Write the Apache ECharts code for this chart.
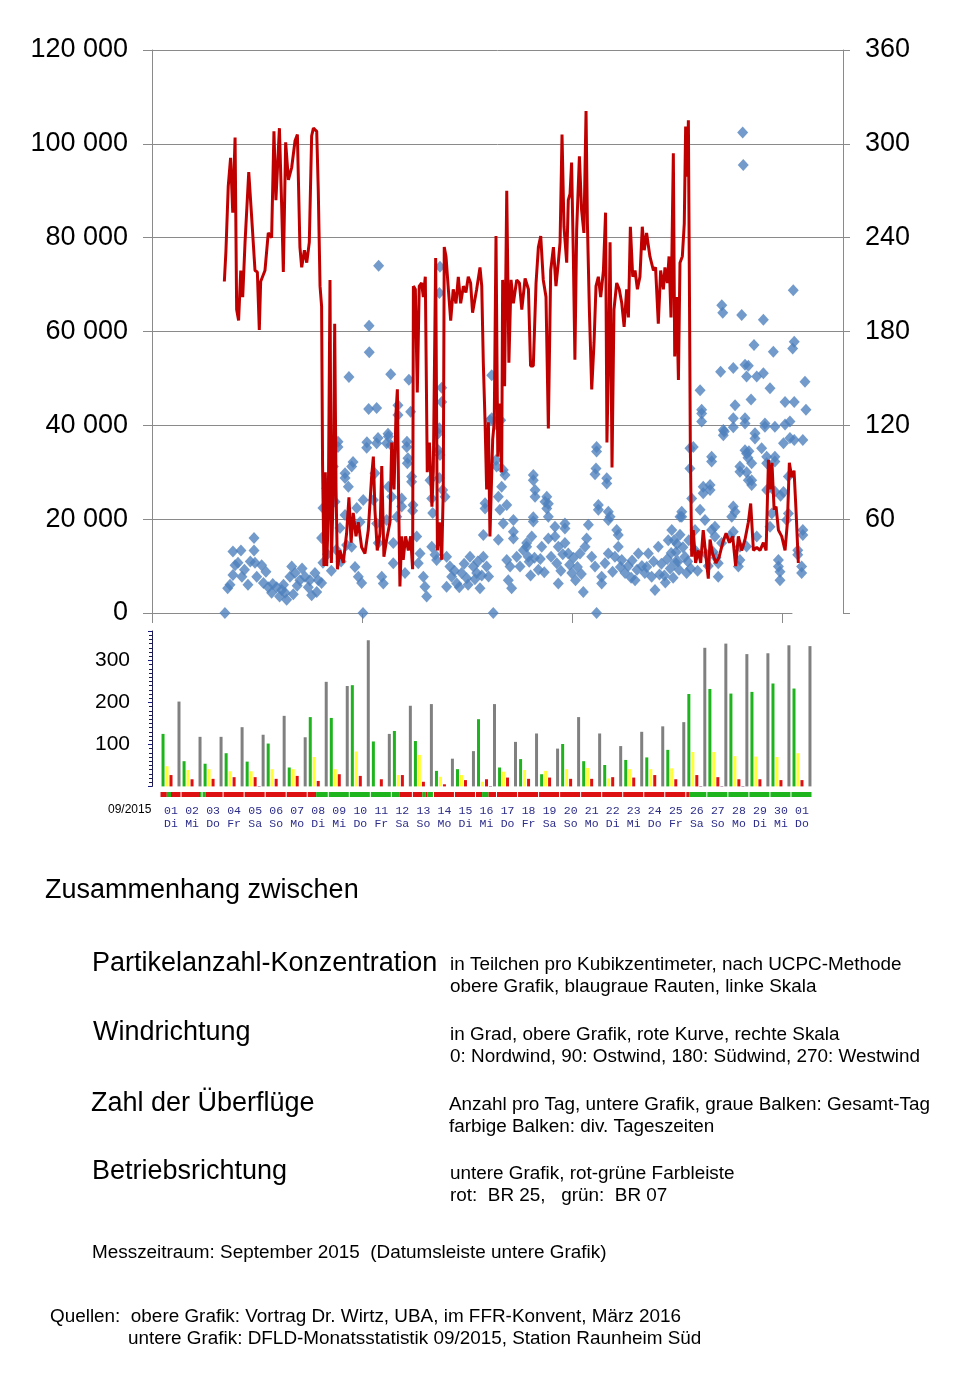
<!DOCTYPE html>
<html><head><meta charset="utf-8">
<script src="https://cdn.jsdelivr.net/npm/echarts@6/dist/echarts.min.js"></script>
<style>html,body{margin:0;padding:0;background:#fff}#c{width:958px;height:1380px}</style>
</head><body><div id="c"></div>
<script>
// ---------- upper chart: particle number concentration (day of month from 1 Sept 00:00, particles/cm3)
const particleData = [
[0.15,0],[0.29,5300],[0.41,6000],[0.56,13100],[0.56,8100],[0.67,10200],[0.82,10700],[0.97,13300],[1.02,7700],[1.15,9200],[1.33,6000],[1.45,11000],[1.64,16000],[1.64,13300],[1.69,10700],[1.78,7700],[2.03,10200],[2.12,6400],[2.25,8800],[2.37,5500],[2.54,4300],[2.6,6200],[2.80,5500],[2.95,3500],[3.06,4900],[3.15,6000],[3.23,4300],[3.31,2800],[3.48,7700],[3.57,9900],[3.65,4000],[3.74,8500],[3.85,5800],[3.99,7000],[4.1,9500],[4.25,7700],[4.42,5500],[4.5,7000],[4.59,3800],[4.76,8500],[4.85,4500],[4.93,7000],[5.10,6400],[5.17,10700],
[5.10,16000],[5.17,22400],[5.36,26600],[5.4,12500],[5.53,28300],[5.6,9000],[5.70,31200],[5.79,23700],[5.85,13500],[5.94,35400],[5.94,36500],[6.04,18100],[6.1,11000],[6.30,28800],[6.30,29800],[6.30,20900],[6.38,14500],[6.47,26900],[6.50,50300],[6.64,31200],[6.64,14100],[6.71,32200],[6.81,9800],[6.90,22400],[6.98,7700],[7.07,19400],[7.15,6400],[7.22,0],[7.23,24100],[7.41,35200],[7.42,36400],[7.51,43500],[7.53,61200],[7.54,55600],
[7.75,24100],[7.83,29800],[7.92,43700],[7.92,36200],[7.92,19100],[7.99,37300],[8.00,14900],[8.02,74000],[8.18,7700],[8.26,6300],[8.43,36200],[8.43,19800],[8.50,38200],[8.52,37600],[8.52,26900],[8.64,50900],[8.65,35800],[8.69,24800],[8.77,14900],[8.77,10600],[8.95,20500],[9.01,44300],[9.01,42200],[9.20,24400],[9.20,22700],[9.37,8500],[9.46,35400],[9.47,36500],[9.49,31900],[9.52,33000],[9.57,49700],[9.66,42900],[9.71,28000],[9.71,29100],[9.76,21800],[9.78,23000],[9.97,16300],[10.05,10600],[10.14,12700],[10.31,7700],[10.39,5600],[10.48,3500],[10.65,28300],[10.74,24400],[10.74,14100],[10.79,21300],[10.91,12400],[10.99,11300],[11.08,38300],[11.08,34700],[11.13,68200],[11.13,39400],[11.13,28800],[11.16,73800],[11.16,33700],[11.25,48000],[11.25,45000],[11.30,26200],[11.42,24800],[11.50,12000],[11.50,5600],
[11.67,9900],[11.76,7700],[11.9,9000],[12.02,6300],[12.15,5500],[12.27,8500],[12.4,10500],[12.53,7400],[12.6,6000],[12.70,12000],[12.87,9900],[12.95,7200],[13.04,8500],[13.1,11000],[13.21,5300],[13.3,8000],[13.38,12000],[13.38,16600],[13.47,22300],[13.47,23400],[13.55,9900],[13.65,7800],[13.72,41100],[13.81,50700],[13.81,41500],[13.89,0],[14.03,32600],[14.06,40100],[14.06,31200],[14.15,24800],[14.15,15600],[14.23,22000],[14.27,41100],[14.32,26900],[14.40,19100],[14.40,30500],[14.49,29400],[14.58,23000],[14.58,11300],[14.66,7000],[14.75,9900],[14.83,5300],[14.92,19800],[14.92,15900],[14.92,17300],[15.09,12000],[15.26,9900],[15.43,13400],
[15.60,14900],[15.60,14100],[15.68,12000],[15.73,10900],[15.8,8000],[15.86,16300],[15.94,28300],[15.94,29400],[15.94,19500],[15.94,20400],[16.0,11800],[16.03,24800],[16.03,26200],[16.20,9200],[16.3,11500],[16.37,14100],[16.5,8700],[16.54,23700],[16.63,22300],[16.63,24800],[16.71,20500],[16.71,15900],[16.71,23300],[16.85,12000],[17.05,18400],[17.05,16300],[17.14,10600],[17.22,14100],[17.22,6300],[17.35,9000],[17.45,12500],[17.56,18000],[17.56,19100],[17.56,14900],[17.73,12700],[17.8,10300],[17.91,8500],[18.0,11800],[18.1,7000],[18.2,9800],[18.33,12700],[18.4,8300],[18.50,4500],[18.59,14100],[18.67,15900],[18.76,18800],[18.93,12000],[19.10,9900],[19.10,29600],[19.15,30800],[19.18,34400],[19.18,35400],[19.18,0],[19.27,22000],[19.27,23000],[19.44,7700],[19.44,6300],
[19.61,10600],[19.70,27600],[19.70,28700],[19.78,12700],[19.78,19800],[19.78,21600],[19.87,20500],[20.0,8800],[20.12,12000],[20.21,17700],[20.29,14100],[20.29,16600],[20.4,9800],[20.47,11300],[20.64,8500],[20.8,10000],[20.95,7500],[21.0,11200],[21.15,7000],[21.25,9200],[21.32,12700],[21.5,10000],[21.65,8500],[21.75,9800],[21.83,12700],[22.00,7700],[22.1,11000],[22.17,4900],[22.34,14100],[22.4,8200],[22.5,10500],[22.65,8000],[22.7,6500],[22.8,11500],[22.85,15500],[22.95,9500],[23.0,12800],[23.03,17700],[23.1,7500],[23.15,15500],[23.2,10800],[23.25,13000],[23.3,14700],[23.35,11000],[23.4,9200],[23.45,20500],[23.45,16700],[23.54,21600],[23.54,20500],
[23.6,14000],[23.7,12000],[23.79,8500],[23.85,11000],[23.9,15500],[23.96,30800],[23.96,35100],[24.0,9500],[24.05,24400],[24.13,35400],[24.2,13500],[24.22,17700],[24.3,12500],[24.35,9000],[24.48,47500],[24.48,22000],[24.56,43300],[24.56,42500],[24.56,40800],[24.64,26900],[24.64,25500],[24.73,19800],[24.8,12500],[24.9,10000],[24.99,27300],[24.99,26200],[25.07,33300],[25.07,32300],[25.07,17700],[25.15,13000],[25.24,18400],[25.24,16300],[25.3,11800],[25.41,10600],[25.41,7700],[25.53,51400],[25.58,14900],[25.59,65600],[25.64,64000],[25.67,39000],[25.67,37900],[25.72,38700],[26.01,16300],[26.10,20500],[26.18,22700],[26.18,41500],[26.18,39600],[26.18,52200],[26.18,17300],[26.27,44300],[26.27,21600],[26.44,9900],[26.52,31200],[26.52,30100],[26.52,14100],[26.52,11300],[26.61,63500],[26.66,102400],[26.69,95500],[26.78,52900],[26.78,41500],[26.78,34700],[26.78,40400],[26.86,50400],[26.86,30000],[26.86,34000],[26.86,14200],[26.93,33100],[26.95,52700],[26.95,28300],[26.98,34500],[27.09,45500],[27.12,28300],[27.12,31900],[27.12,27300],[27.24,57100],[27.29,38300],[27.29,37200],[27.38,50400],[27.38,16300],[27.63,35100],[27.72,62500],[27.72,51100],[27.80,40400],[27.80,39700],[27.89,33300],[27.89,31900],[27.89,26200],[28.06,47900],[28.06,18400],[28.15,21200],[28.23,55700],[28.31,39700],[28.31,33300],[28.31,25900],[28.31,32300],[28.49,9900],[28.49,11300],[28.57,7000],[28.57,8800],[28.6,25000],[28.75,36200],[28.75,25800],[28.83,45000],[28.83,40200],[28.91,19800],[29.00,29100],[29.00,21200],[29.08,40800],[29.08,37300],[29.22,56400],[29.25,68800],[29.30,57800],[29.30,36900],[29.30,45000],[29.48,13400],[29.48,12400],[29.68,9900],[29.68,8500],[29.74,36900],[29.74,17700],[29.74,16600],[29.85,49300],[29.90,43300]
];
// ---------- upper chart: wind direction (degrees, right scale)
const windData = [
[0.12,212],[0.20,231],[0.32,273],[0.44,291],[0.55,256],[0.67,304],[0.75,194],[0.85,187],[0.96,219],[1.06,202],[1.18,237],[1.37,282],[1.52,253],[1.69,219],[1.81,218],[1.91,181],[1.98,212],[2.20,219],[2.37,243],[2.54,240],[2.66,308],[2.76,264],[2.94,310],[3.06,258],[3.14,218],[3.26,301],[3.40,277],[3.57,285],[3.74,302],[3.86,306],[3.99,234],[4.08,221],[4.22,232],[4.34,224],[4.47,237],[4.59,305],[4.68,310],[4.85,308],[4.93,270],[5.02,209],[5.10,196],[5.15,94],[5.22,30],[5.29,90],[5.36,30],[5.44,62],[5.53,213],[5.60,32],[5.70,79],[5.77,185],[5.84,79],[5.91,28],[6.04,40],[6.21,32],[6.38,51],[6.50,74],[6.61,45],[6.72,64],[6.86,49],[6.98,58],[7.15,42],[7.32,38],[7.49,53],[7.66,87],[7.75,100],[7.83,66],[7.95,40],[8.09,51],[8.18,94],[8.29,36],[8.43,47],[8.60,58],[8.69,109],[8.81,79],[8.91,128],[8.98,143],[9.05,68],[9.11,17],[9.20,49],[9.28,34],[9.40,49],[9.54,40],[9.66,49],[9.76,28],[9.80,209],[9.90,207],[10.00,141],[10.10,209],[10.22,211],[10.31,202],[10.41,215],[10.51,90],[10.62,109],[10.75,68],[10.82,91],[10.94,227],[11.03,40],[11.13,58],[11.25,34],[11.33,79],[11.38,234],[11.47,228],[11.59,207],[11.71,187],[11.84,207],[11.98,198],[12.10,215],[12.22,198],[12.36,209],[12.49,205],[12.61,215],[12.73,211],[12.83,192],[13.04,207],[13.21,221],
[13.30,209],[13.38,160],[13.47,122],[13.55,79],[13.64,122],[13.72,49],[13.86,111],[13.94,122],[14.03,241],[14.12,100],[14.20,134],[14.32,90],[14.37,213],[14.47,145],[14.58,270],[14.69,160],[14.80,213],[14.92,198],[15.09,213],[15.23,211],[15.35,194],[15.52,214],[15.69,207],[15.80,158],[15.94,158],[16.08,211],[16.20,234],[16.32,241],[16.45,213],[16.59,202],[16.71,118],[16.83,219],[16.97,234],[17.10,209],[17.22,224],[17.31,237],[17.41,306],[17.51,247],[17.65,224],[17.73,264],[17.82,268],[17.90,288],[17.99,228],[18.07,162],[18.16,245],[18.30,292],[18.41,258],[18.53,243],[18.64,321],[18.71,249],[18.81,194],[18.93,143],[19.05,173],[19.15,209],[19.27,215],[19.39,202],[19.53,219],[19.64,256],[19.71,109],[19.80,168],[19.87,237],[19.97,93],[20.07,194],[20.21,211],[20.34,207],[20.47,198],[20.59,183],[20.72,207],[20.81,189],[20.91,247],[21.03,215],[21.15,219],[21.27,207],[21.40,215],[21.52,247],[21.62,232],[21.74,243],[21.91,228],[22.09,219],[22.20,221],[22.34,185],[22.46,219],[22.60,207],[22.68,221],[22.80,211],[22.89,228],[22.99,189],[23.11,294],[23.18,164],[23.28,202],[23.37,149],[23.45,224],[23.57,228],[23.67,249],[23.74,311],[23.83,279],[23.88,315],[23.93,215],[23.98,106],[24.05,36],[24.13,53],[24.25,32],[24.39,40],[24.51,32],[24.64,53],[24.78,36],[24.90,22],[24.99,47],[25.12,38],[25.29,32],[25.46,36],[25.64,45],[25.81,51],[25.98,45],[26.15,49],[26.30,30],[26.44,49],[26.61,40],[26.78,47],[26.95,58],[27.07,70],[27.21,40],[27.38,42],[27.55,40],[27.72,45],[27.86,40],[27.98,98],[28.06,79],[28.16,96],[28.27,66],[28.37,68],[28.49,53],[28.66,49],[28.83,40],[28.95,58],[29.05,96],[29.17,87],[29.29,91],[29.39,66],[29.51,32]
];
const upperXTicks = [-3.584, 7.168, 17.92, 28.672];

// ---------- lower chart: overflights per day
const dayLabels = ['01','02','03','04','05','06','07','08','09','10','11','12','13','14','15','16','17','18','19','20','21','22','23','24','25','26','27','28','29','30','01'];
const weekdays  = ['Di','Mi','Do','Fr','Sa','So','Mo','Di','Mi','Do','Fr','Sa','So','Mo','Di','Mi','Do','Fr','Sa','So','Mo','Di','Mi','Do','Fr','Sa','So','Mo','Di','Mi','Do'];
const flightsGreen  = [125,60,54,79,59,102,45,165,163,241,107,132,108,37,41,160,45,65,29,101,60,51,63,69,87,220,232,221,225,245,233];
const flightsYellow = [48,39,41,36,36,41,41,70,41,83,0,27,75,23,27,11,35,39,37,41,44,19,41,41,43,82,82,72,71,70,79];
const flightsRed    = [27,17,18,22,22,18,25,13,29,25,17,27,11,5,15,17,21,18,21,18,18,22,21,27,17,27,22,17,17,15,15];
const flightsNight  = [0,0,0,0,1,0,0,0,0,0,0,0,0,0,0,1,0,0,0,0,0,0,0,0,0,1,1,1,0,0,0];
const flightsTotal  = [202,118,118,141,123,168,117,249,239,348,125,192,196,66,84,196,106,126,90,165,126,96,130,143,153,330,340,315,317,336,334];
// operating direction strip: [start day, end day, runway direction]
const runwaySegments = [
[0,0.3,25],[0.3,0.5,7],[0.5,1,25],[1,1.88,25],[1.88,2,7],[2,2.15,7],[2.15,3,25],
[3,4,25],[4,5,25],[5,6,25],[6,7,25],[7,7.4,25],[7.4,8,7],[8,9,7],[9,10,7],[10,11,7],
[11,11.36,7],[11.36,12,25],[12,12.45,25],[12.45,12.6,7],[12.6,12.7,25],[12.7,13,7],
[13,14,25],[14,15,25],[15,15.29,25],[15.29,15.6,7],[15.6,16,25],
[16,17,25],[17,18,25],[18,19,25],[19,20,25],[20,21,25],[21,22,25],[22,23,25],[23,24,25],[24,25,25],
[25,25.16,25],[25.16,26,7],[26,27,7],[27,28,7],[28,29,7],[29,30,7],[30,31,7]
];

const SANS = 'Liberation Sans, Arial, sans-serif';
const chart = echarts.init(document.getElementById('c'), null, {renderer:'canvas'});

function txt(x, y, text, size){
  return {type:'text', x:x, y:y, silent:true,
    style:{text:text, fontSize:size, fontFamily:SANS, fill:'#000', verticalAlign:'middle', align:'left'}};
}

const option = {
  animation:false,
  backgroundColor:'#fff',
  grid:[
    {left:152, right:115, top:50, height:563},
    {left:160.5, right:145.5, top:631, height:155.4},
    {left:160.5, right:145.5, top:792, height:5},
    {left:152, right:166, top:50, height:563}
  ],
  xAxis:[
    {type:'value', gridIndex:0, min:-3.584, max:31.797, show:false},
    {type:'value', gridIndex:3, min:-3.584, max:29.186,
      axisLine:{show:true, onZero:false, lineStyle:{color:'#8a8a8a', width:1}},
      axisTick:{show:true, length:10, customValues:upperXTicks, lineStyle:{color:'#8a8a8a'}},
      axisLabel:{show:false}, splitLine:{show:false}},
    {type:'category', gridIndex:1, data:dayLabels,
      axisLine:{show:false}, axisTick:{show:false},
      axisLabel:{interval:0, margin:18, fontFamily:'Liberation Mono, DejaVu Sans Mono, monospace', fontSize:11.5,
        color:'#2d2d8a', lineHeight:13,
        formatter:(v, i)=> v + '\n' + weekdays[i]}},
    {type:'value', gridIndex:2, min:0, max:31, show:false}
  ],
  yAxis:[
    {type:'value', gridIndex:0, min:0, max:120000, interval:20000, position:'left',
      axisLine:{show:true, onZero:false, lineStyle:{color:'#8a8a8a'}},
      axisTick:{show:true, length:9, lineStyle:{color:'#8a8a8a'}},
      splitLine:{show:true, showMinLine:false, lineStyle:{color:'#8a8a8a', width:1}},
      axisLabel:{fontSize:27, fontFamily:SANS, color:'#000', margin:24,
        formatter:v=> String(v).replace(/\B(?=(\d{3})+(?!\d))/g,' ')}},
    {type:'value', gridIndex:0, min:0, max:360, interval:60, position:'right',
      axisLine:{show:true, onZero:false, lineStyle:{color:'#8a8a8a'}},
      axisTick:{show:true, length:7, lineStyle:{color:'#8a8a8a'}},
      splitLine:{show:false},
      axisLabel:{fontSize:27, fontFamily:SANS, color:'#000', margin:22,
        formatter:v=> v===0 ? '' : String(v)}},
    {type:'value', gridIndex:1, min:0, max:370, interval:100, position:'left', offset:8.5,
      axisLine:{show:true, onZero:false, lineStyle:{color:'#1c1c50', width:1}},
      axisTick:{show:true, length:4, lineStyle:{color:'#1c1c80'}},
      minorTick:{show:true, splitNumber:10, length:3, lineStyle:{color:'#1c1c50'}},
      splitLine:{show:false},
      axisLabel:{fontSize:21, fontFamily:SANS, color:'#000', margin:22, showMaxLabel:false,
        formatter:v=> (v===0 || v===370) ? '' : String(v)}},
    {type:'value', gridIndex:2, min:0, max:1, show:false},
    {type:'value', gridIndex:3, min:0, max:1, show:false}
  ],
  series:[
    {type:'scatter', xAxisIndex:0, yAxisIndex:0, data:particleData, symbol:'diamond', symbolSize:[11,12],
      itemStyle:{color:'#4f81bd'}, z:2, silent:true},
    {type:'line', xAxisIndex:0, yAxisIndex:1, data:windData, showSymbol:false, symbol:'none',
      lineStyle:{color:'#c00000', width:3}, z:3, silent:true},
    {type:'bar', xAxisIndex:2, yAxisIndex:2, data:flightsGreen, barWidth:3, barGap:'33%', itemStyle:{color:'#1db41d'}, silent:true},
    {type:'bar', xAxisIndex:2, yAxisIndex:2, data:flightsYellow, barWidth:3, barGap:'33%', itemStyle:{color:'#ffff33'}, silent:true},
    {type:'bar', xAxisIndex:2, yAxisIndex:2, data:flightsRed, barWidth:3, barGap:'33%', itemStyle:{color:'#dd1111'}, silent:true},
    {type:'bar', xAxisIndex:2, yAxisIndex:2, data:flightsNight, barWidth:3, barGap:'33%', itemStyle:{color:'#6a2a6a'}, silent:true},
    {type:'bar', xAxisIndex:2, yAxisIndex:2, data:flightsTotal, barWidth:3, barGap:'33%', itemStyle:{color:'#808080'}, silent:true},
    {type:'custom', xAxisIndex:3, yAxisIndex:3, data:runwaySegments, silent:true,
      encode:{x:[0,1], y:2},
      renderItem:function(params, api){
        const s = api.value(0), e = api.value(1), d = api.value(2);
        const p0 = api.coord([s, 1]), p1 = api.coord([e, 0]);
        const gap = Math.abs(e - Math.round(e)) < 1e-6 ? 1 : 0;
        return {type:'rect', shape:{x:p0[0], y:p0[1], width:Math.max(0.5, p1[0]-p0[0]-gap), height:p1[1]-p0[1]},
          style:{fill: d === 25 ? '#dd1111' : '#1db41d'}};
      }}
  ],
  graphic:[
    {type:'text', x:108, y:810, silent:true, style:{text:'09/2015', fontSize:12, fontFamily:SANS, fill:'#000', verticalAlign:'middle'}},
    txt(45, 891, 'Zusammenhang zwischen', 27),
    txt(92, 964, 'Partikelanzahl-Konzentration', 27),
    txt(450, 965, 'in Teilchen pro Kubikzentimeter, nach UCPC-Methode', 18.9),
    txt(450, 987, 'obere Grafik, blaugraue Rauten, linke Skala', 18.9),
    txt(93, 1033, 'Windrichtung', 27),
    txt(450, 1035, 'in Grad, obere Grafik, rote Kurve, rechte Skala', 18.9),
    txt(450, 1057, '0: Nordwind, 90: Ostwind, 180: Südwind, 270: Westwind', 18.9),
    txt(91, 1104, 'Zahl der Überflüge', 27),
    txt(449, 1105, 'Anzahl pro Tag, untere Grafik, graue Balken: Gesamt-Tag', 18.9),
    txt(449, 1127, 'farbige Balken: div. Tageszeiten', 18.9),
    txt(92, 1172, 'Betriebsrichtung', 27),
    txt(450, 1174, 'untere Grafik, rot-grüne Farbleiste', 18.9),
    txt(450, 1196, 'rot:  BR 25,   grün:  BR 07', 18.9),
    txt(92, 1253, 'Messzeitraum: September 2015  (Datumsleiste untere Grafik)', 18.9),
    txt(50, 1317, 'Quellen:  obere Grafik: Vortrag Dr. Wirtz, UBA, im FFR-Konvent, März 2016', 18.9),
    txt(128, 1339, 'untere Grafik: DFLD-Monatsstatistik 09/2015, Station Raunheim Süd', 18.9)
  ]
};
chart.setOption(option);
</script>
</body></html>
